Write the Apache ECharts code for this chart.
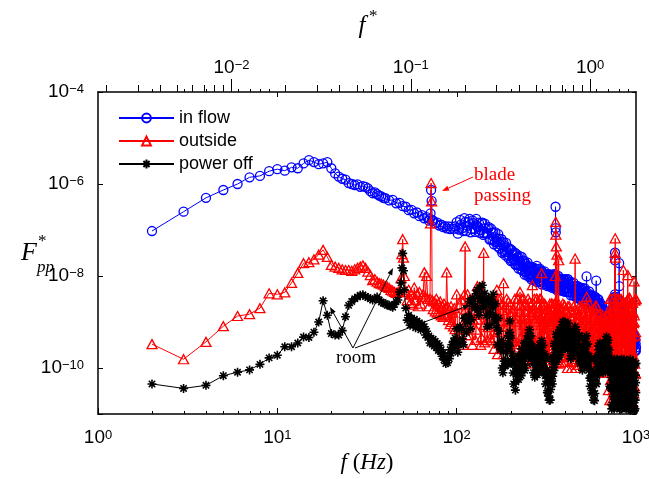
<!DOCTYPE html>
<html><head><meta charset="utf-8">
<script src="https://cdn.jsdelivr.net/npm/echarts@6/dist/echarts.min.js"></script>
<style>html,body{margin:0;padding:0;background:#fff}#c{width:649px;height:479px}</style>
</head><body><div id="c"></div>
<script>
// ---------------- data ----------------
// two interleaved high-frequency grids (Hz), shared by the three spectra
const hfFreq = [100,103,106,109,112,115,118,121,124,127,130,133,136,139,142,145,148,151,154,157,160,163,166,169,172,175,178,181,184,187,190,193,196,199,202,205,208,211,214,217,220,223,226,229,232,235,238,241,244,247,250,253,256,259,262,265,268,271,274,277,280,283,286,289,292,295,298,301,304,307,310,313,316,319,322,325,328,331,334,337,340,343,346,349,352,355,358,361,364,367,370,373,376,379,382,385,388,391,394,397,
400,405,410,415,420,425,430,435,440,445,450,455,460,465,470,475,480,485,490,495,500,505,510,515,520,525,530,535,540,545,550,555,560,565,570,575,580,585,590,595,600,605,610,615,620,625,630,635,640,645,650,655,660,665,670,675,680,685,690,695,700,705,710,715,720,725,730,735,740,745,750,755,760,765,770,775,780,785,790,795,800,805,810,815,820,825,830,835,840,845,850,855,860,865,870,875,880,885,890,895,900,905,910,915,920,925,930,935,940,945,950,955,960,965,970,975,980,985,990,995,1000];
const hfFreq2 = [101.5,104.5,107.5,110.5,113.5,116.5,119.5,122.5,125.5,128.5,131.5,134.5,137.5,140.5,143.5,146.5,149.5,152.5,155.5,158.5,161.5,164.5,167.5,170.5,173.5,176.5,179.5,182.5,185.5,188.5,191.5,194.5,197.5,200.5,203.5,206.5,209.5,212.5,215.5,218.5,221.5,224.5,227.5,230.5,233.5,236.5,239.5,242.5,245.5,248.5,251.5,254.5,257.5,260.5,263.5,266.5,269.5,272.5,275.5,278.5,281.5,284.5,287.5,290.5,293.5,296.5,299.5,302.5,305.5,308.5,311.5,314.5,317.5,320.5,323.5,326.5,329.5,332.5,335.5,338.5,341.5,344.5,347.5,350.5,353.5,356.5,359.5,362.5,365.5,368.5,371.5,374.5,377.5,380.5,383.5,386.5,389.5,392.5,395.5,398.5,
402.5,407.5,412.5,417.5,422.5,427.5,432.5,437.5,442.5,447.5,452.5,457.5,462.5,467.5,472.5,477.5,482.5,487.5,492.5,497.5,502.5,507.5,512.5,517.5,522.5,527.5,532.5,537.5,542.5,547.5,552.5,557.5,562.5,567.5,572.5,577.5,582.5,587.5,592.5,597.5,602.5,607.5,612.5,617.5,622.5,627.5,632.5,637.5,642.5,647.5,652.5,657.5,662.5,667.5,672.5,677.5,682.5,687.5,692.5,697.5,702.5,707.5,712.5,717.5,722.5,727.5,732.5,737.5,742.5,747.5,752.5,757.5,762.5,767.5,772.5,777.5,782.5,787.5,792.5,797.5,802.5,807.5,812.5,817.5,822.5,827.5,832.5,837.5,842.5,847.5,852.5,857.5,862.5,867.5,872.5,877.5,882.5,887.5,892.5,897.5,902.5,907.5,912.5,917.5,922.5,927.5,932.5,937.5,942.5,947.5,952.5,957.5,962.5,967.5,972.5,977.5,982.5,987.5,992.5,997.5];

// "in flow"
const inflowLowFreq = [2,3,4,5,6,7,8,9,10,11,12,13,14,15,16,17,18,19,20,21,22,23,24,25,26,27,28,29,30,31,32,33,34,35,36,37,38,39,40,42,44,46,48,50,52,54,56,58,60,62,64,66,68,70,71,71.5,72,72.5,73,74,76,78,80,82,84,86,88,90,92,94,96,98];
const inflowLowPsd = [9.5e-8,2.5e-7,5.0e-7,7.4e-7,1.0e-6,1.4e-6,1.5e-6,1.9e-6,2.1e-6,1.95e-6,2.3e-6,2.2e-6,2.8e-6,3.3e-6,3.0e-6,2.7e-6,2.8e-6,3.0e-6,2.2e-6,1.7e-6,1.45e-6,1.3e-6,1.25e-6,1.05e-6,1.0e-6,9.5e-7,9.8e-7,8.7e-7,9.0e-7,8.7e-7,8.0e-7,7.0e-7,6.3e-7,6.6e-7,6.0e-7,5.6e-7,5.4e-7,5.0e-7,4.9e-7,
4.4e-7,4.5e-7,3.8e-7,3.9e-7,3.3e-7,3.2e-7,2.7e-7,2.75e-7,2.3e-7,2.4e-7,2.0e-7,2.1e-7,1.8e-7,1.9e-7,1.6e-7,
1.75e-7,2.3e-7,7.4e-7,4.3e-7,1.6e-7,
1.6e-7,1.4e-7,1.45e-7,1.25e-7,1.3e-7,1.15e-7,1.22e-7,1.08e-7,1.2e-7,1.05e-7,1.18e-7,1.06e-7,1.2e-7];
const inflowHfPsd = [1.48e-7,1.02e-7,1.32e-7,9.5e-8,1.51e-7,1.23e-7,1.74e-7,1.05e-7,1.41e-7,9.1e-8,
1.23e-7,1.45e-7,1.0e-7,1.45e-7,8.5e-8,1.1e-7,8.5e-8,1.15e-7,6.3e-8,8.7e-8,
8.9e-8,5.6e-8,6.6e-8,4.4e-8,6.5e-8,4.8e-8,6.3e-8,3.5e-8,4.6e-8,2.8e-8,
3.6e-8,4.2e-8,2.75e-8,3.9e-8,2.2e-8,2.95e-8,2.35e-8,3.2e-8,1.78e-8,2.5e-8,
2.6e-8,1.7e-8,2.05e-8,1.38e-8,2.1e-8,1.58e-8,2.15e-8,1.23e-8,1.62e-8,1.02e-8,
1.38e-8,1.62e-8,1.1e-8,1.58e-8,9.5e-9,1.29e-8,1.05e-8,1.48e-8,8.5e-9,1.23e-8,
1.66e-8,8.9e-9,1.1e-8,7.6e-9,1.2e-8,9.3e-9,1.29e-8,7.6e-9,1.02e-8,6.8e-9,
9.1e-9,1.07e-8,7.6e-9,1.1e-8,6.8e-9,9.1e-9,7.4e-9,1.07e-8,6.2e-9,9.1e-9,
1.0e-8,6.6e-9,8.3e-9,5.75e-9,9.1e-9,7.1e-9,1.0e-8,5.9e-9,8.1e-9,5.25e-9,
7.1e-9,8.5e-9,5.9e-9,8.7e-9,5.25e-9,7.2e-9,5.9e-9,8.5e-9,4.9e-9,7.2e-9,
7.9e-9,5.25e-9,8.1e-9,4.5e-9,6.9e-9,5.4e-9,7.4e-9,4.4e-9,5.9e-9,3.8e-9,
5.1e-9,6.0e-9,4.2e-9,6.0e-9,3.6e-9,4.9e-9,4.0e-9,5.6e-9,3.2e-9,4.7e-9,
5.0e-9,3.3e-9,4.1e-9,2.8e-9,4.4e-9,3.4e-9,9.8e-9,2.75e-9,3.7e-9,2.4e-9,
3.2e-9,3.8e-9,2.6e-9,3.8e-9,2.3e-9,3.1e-9,2.5e-9,3.5e-9,2.0e-9,2.95e-9,
7.9e-9,2.0e-9,2.45e-9,1.66e-9,2.5e-9,1.9e-9,2.6e-9,1.48e-9,1.95e-9,1.23e-9,
1.62e-9,1.86e-9,1.26e-9,1.78e-9,1.05e-9,1.38e-9,1.1e-9,1.51e-9,8.5e-10,1.2e-9,
1.26e-9,8.5e-10,1.07e-9,7.6e-10,1.2e-9,1.1e-9,1.74e-9,1.2e-9,1.86e-9,1.41e-9,
2.2e-9,3.0e-9,2.45e-9,3.5e-9,2.1e-9,2.9e-9,2.3e-9,3.2e-9,1.86e-9,2.6e-9,
2.8e-9,1.8e-9,2.2e-9,1.51e-9,2.35e-9,1.78e-9,2.45e-9,1.41e-9,1.9e-9,1.2e-9,
1.62e-9,1.8e-9,1.23e-9,1.7e-9,1.0e-9,1.29e-9,1.02e-9,1.38e-9,7.8e-10,1.07e-9,
1.12e-9,7.1e-10,8.5e-10,5.6e-10,8.5e-10,6.3e-10,8.5e-10,4.8e-10,6.3e-10,3.9e-10,
5.1e-10,5.75e-10,3.9e-10,5.4e-10,3.2e-10,4.1e-10,3.2e-10,4.4e-10,2.45e-10,3.4e-10,
2.8e-10];
const inflowHf2Psd = [8.3e-8,1.66e-7,1.1e-7,1.82e-7,9.5e-8,1.48e-7,8.9e-8,1.62e-7,1.05e-7,1.74e-7,
1.15e-7,8.7e-8,1.41e-7,7.8e-8,1.38e-7,8.5e-8,1.07e-7,6.2e-8,1.07e-7,6.0e-8,
4.9e-8,8.9e-8,5.4e-8,8.1e-8,4.0e-8,5.6e-8,3.2e-8,5.4e-8,3.3e-8,5.25e-8,
3.3e-8,2.45e-8,3.8e-8,2.1e-8,3.6e-8,2.3e-8,2.95e-8,1.74e-8,3.0e-8,1.74e-8,
1.45e-8,2.7e-8,1.66e-8,2.6e-8,1.29e-8,1.86e-8,1.07e-8,1.86e-8,1.17e-8,1.95e-8,
1.29e-8,9.5e-9,1.55e-8,8.5e-9,1.55e-8,1.0e-8,1.32e-8,7.9e-9,1.45e-8,8.5e-9,
7.4e-9,1.41e-8,8.9e-9,1.45e-8,7.4e-9,1.1e-8,6.5e-9,1.17e-8,7.6e-9,1.26e-8,
8.5e-9,6.5e-9,1.05e-8,6.0e-9,1.1e-8,7.2e-9,9.5e-9,5.9e-9,1.07e-8,6.5e-9,
5.5e-9,1.07e-8,6.8e-9,1.1e-8,5.6e-9,8.5e-9,5.0e-9,9.1e-9,5.9e-9,1.0e-8,
6.6e-9,5.1e-9,8.3e-9,4.8e-9,8.7e-9,5.75e-9,7.6e-9,4.7e-9,8.5e-9,5.1e-9,
4.5e-9,8.5e-9,5.4e-9,8.5e-9,4.4e-9,6.5e-9,3.8e-9,6.8e-9,4.4e-9,7.2e-9,
4.8e-9,3.6e-9,5.9e-9,3.3e-9,6.0e-9,3.9e-9,5.1e-9,3.1e-9,5.6e-9,3.3e-9,
2.8e-9,5.4e-9,3.4e-9,5.4e-9,2.75e-9,4.1e-9,2.4e-9,4.3e-9,2.75e-9,4.6e-9,
3.0e-9,2.3e-9,3.7e-9,2.1e-9,3.8e-9,2.45e-9,3.2e-9,1.95e-9,3.5e-9,2.1e-9,
1.74e-9,3.2e-9,2.0e-9,3.1e-9,1.55e-9,2.2e-9,1.29e-9,2.2e-9,1.41e-9,2.3e-9,
1.48e-9,1.1e-9,1.74e-9,9.5e-10,1.7e-9,1.07e-9,1.38e-9,8.1e-10,1.45e-9,8.3e-10,
7.1e-10,1.38e-9,8.9e-10,1.45e-9,8.1e-10,1.38e-9,9.5e-10,2.0e-9,1.48e-9,2.9e-9,
2.2e-9,1.95e-9,3.5e-9,1.95e-9,3.5e-9,2.2e-9,2.95e-9,1.78e-9,3.2e-9,1.86e-9,
1.55e-9,2.95e-9,1.82e-9,2.9e-9,1.45e-9,2.15e-9,1.23e-9,2.2e-9,1.38e-9,2.3e-9,
1.48e-9,1.07e-9,1.7e-9,9.1e-10,1.62e-9,1.0e-9,1.29e-9,7.4e-10,1.32e-9,7.4e-10,
6.2e-10,1.12e-9,6.9e-10,1.05e-9,5.25e-10,7.4e-10,4.3e-10,7.2e-10,4.6e-10,7.2e-10,
4.7e-10,3.4e-10,5.4e-10,2.9e-10,5.1e-10,3.2e-10,4.1e-10,2.35e-10,4.2e-10,2.35e-10];
const inflowSpikeFreq = [355.5,356,356.5,357,763.5,764,764.5,805.5,806];
const inflowSpikePsd = [1.0e-8,3.2e-7,1.1e-7,8.9e-8,4.0e-9,3.2e-8,2.2e-8,1.9e-8,6.0e-9];

// "outside"
const outsideLowFreq = [2,3,4,5,6,7,8,9,10,11,12,13,14,15,16,17,18,19,20,21,22,23,24,25,26,27,28,29,30,31,32,33,34,35,36,37,38,39,40,41,42,43,44,45,46,47,48,49,49.5,50,50.5,51,52,53,54,55,56,57,58,59,60,61,62,63,64,65,66,67,68,69,70,71,71.5,72,72.5,73,74,75,76,77,78,79,80,81,82,83,84,85,86,87,88,89,90,91,92,93,94,95,96,97,98];
const outsideLowPsd = [3.3e-10,1.55e-10,3.7e-10,8.1e-10,1.35e-9,1.48e-9,2.0e-9,4.2e-9,4.0e-9,4.4e-9,7.1e-9,1.17e-8,1.9e-8,2.0e-8,2.3e-8,2.9e-8,3.7e-8,2.6e-8,1.74e-8,1.6e-8,1.5e-8,1.4e-8,1.35e-8,1.35e-8,1.3e-8,1.4e-8,1.5e-8,1.6e-8,1.7e-8,1.5e-8,1.25e-8,1.05e-8,8.1e-9,8.5e-9,7.5e-9,7.0e-9,6.8e-9,6.5e-9,6.0e-9,5.8e-9,5.5e-9,5.0e-9,4.8e-9,4.5e-9,4.3e-9,4.4e-9,4.5e-9,
9.0e-9,3.0e-8,6.3e-8,2.5e-8,1.0e-8,
4.5e-9,3.0e-9,5.0e-9,2.6e-9,4.0e-9,2.4e-9,5.6e-9,3.0e-9,4.0e-9,2.2e-9,4.5e-9,2.5e-9,3.5e-9,4.0e-9,1.2e-8,3.5e-9,1.0e-8,3.2e-9,2.2e-9,3.2e-9,
1.4e-7,1.05e-6,4.2e-7,
3.0e-9,1.9e-9,2.8e-9,1.7e-9,3.2e-9,1.6e-9,2.5e-9,1.5e-9,2.8e-9,1.4e-9,2.2e-9,1.3e-9,2.5e-9,1.4e-9,2.0e-9,1.2e-8,2.2e-9,1.1e-9,1.8e-9,9.0e-10,2.2e-9,1.0e-9,1.6e-9,8.0e-10,2.0e-9,7.0e-10];
const outsideHfPsd = [4.0e-9,6.8e-10,3.1e-9,3.2e-10,1.86e-9,4.0e-9,5.2e-10,2.4e-9,1.12e-9,4.1e-10,
4.0e-9,1.45e-9,3.2e-10,3.1e-9,8.7e-10,2.4e-9,4.1e-10,3.2e-9,4.6e-10,1.38e-9,
3.2e-9,4.6e-10,2.4e-9,2.0e-10,1.38e-9,3.2e-9,3.5e-10,1.82e-9,7.9e-10,2.6e-10,
3.2e-9,1.05e-9,2.0e-10,2.4e-9,4.6e-10,1.66e-9,1.74e-10,3.2e-9,3.3e-10,1.2e-9,
3.2e-9,3.3e-10,2.3e-9,1.26e-10,1.2e-9,3.2e-9,2.4e-10,1.66e-9,6.3e-10,1.74e-10,
3.2e-9,8.7e-10,1.26e-10,2.3e-9,4.6e-10,1.66e-9,1.74e-10,3.2e-9,3.3e-10,1.2e-9,
3.2e-9,3.3e-10,2.3e-9,1.26e-10,1.2e-9,3.2e-9,2.4e-10,1.38e-9,5.6e-10,1.7e-10,
2.5e-9,7.6e-10,1.26e-10,1.86e-9,4.2e-10,1.38e-9,1.7e-10,2.5e-9,3.1e-10,1.02e-9,
2.5e-9,3.1e-10,1.86e-9,1.26e-10,1.02e-9,2.5e-9,2.3e-10,1.38e-9,5.6e-10,1.7e-10,
2.5e-9,7.6e-10,1.26e-10,1.86e-9,4.2e-10,1.38e-9,1.7e-10,2.5e-9,3.1e-10,1.02e-9,
2.2e-9,2.5e-10,1.62e-9,1.0e-10,8.7e-10,2.2e-9,1.86e-10,1.2e-9,4.7e-10,1.35e-10,
2.2e-9,6.5e-10,1.0e-10,1.62e-9,3.5e-10,1.2e-9,1.35e-10,2.2e-9,2.5e-10,8.7e-10,
2.0e-9,3.0e-10,1.4e-9,1.1e-10,9.5e-10,2.4e-9,1.6e-10,1.1e-9,5.2e-10,1.2e-10,
2.4e-9,5.8e-10,1.15e-10,1.75e-9,3.0e-10,1.3e-9,1.2e-10,2.0e-9,2.8e-10,9.5e-10,
2.2e-9,1.86e-10,1.05e-9,7.9e-11,5.9e-10,1.41e-9,1.41e-10,7.9e-10,3.3e-10,1.05e-10,
1.41e-9,4.5e-10,7.9e-11,1.05e-9,2.5e-10,7.9e-10,1.05e-10,1.41e-9,1.86e-10,5.9e-10,
1.41e-9,9.1e-11,1.9e-9,2.0e-11,6.9e-10,3.2e-9,5.5e-11,1.15e-9,2.5e-10,3.3e-11,
3.2e-9,4.2e-10,2.0e-11,1.9e-9,1.5e-10,1.15e-9,3.3e-11,3.2e-9,9.1e-11,6.9e-10,
3.2e-9,9.1e-11,1.9e-9,2.0e-11,6.9e-10,3.2e-9,5.5e-11,1.15e-9,2.5e-10,3.3e-11,
2.8e-9,3.6e-10,2.4e-11,2.2e-9,1.2e-10,1.3e-9,2.8e-11,2.7e-9,1.1e-10,8.0e-10,
3.2e-9,9.1e-11,1.9e-9,2.0e-11,6.9e-10,3.2e-9,5.5e-11,1.15e-9,2.5e-10,3.3e-11,
2.6e-9,4.8e-10,1.7e-11,1.6e-9,1.8e-10,1.0e-9,4.0e-11,2.9e-9,7.5e-11,6.0e-10,
3.2e-9];
const outsideHf2Psd = [4.1e-10,2.4e-9,8.7e-10,4.0e-9,5.2e-10,1.45e-9,3.1e-9,3.2e-10,1.86e-9,6.8e-10,
1.12e-9,3.5e-9,4.6e-10,2.1e-9,3.6e-10,2.7e-9,7.7e-10,1.2e-9,4.0e-10,3.2e-9,
2.6e-10,1.82e-9,6.0e-10,3.2e-9,3.5e-10,1.05e-9,2.4e-9,2.0e-10,1.38e-9,4.6e-10,
7.9e-10,2.75e-9,3.0e-10,1.41e-9,1.48e-10,1.95e-9,3.9e-10,1.02e-9,2.8e-10,3.2e-9,
1.74e-10,1.66e-9,4.6e-10,3.2e-9,2.4e-10,8.7e-10,2.3e-9,1.26e-10,1.2e-9,3.3e-10,
6.3e-10,2.7e-9,2.0e-10,1.41e-9,1.48e-10,1.95e-9,3.9e-10,1.02e-9,2.8e-10,3.2e-9,
1.74e-10,1.66e-9,4.6e-10,3.2e-9,2.4e-10,8.7e-10,2.3e-9,1.26e-10,1.02e-9,3.1e-10,
5.6e-10,2.2e-9,2.0e-10,1.19e-9,1.46e-10,1.6e-9,3.6e-10,8.8e-10,2.7e-10,2.5e-9,
1.7e-10,1.38e-9,4.2e-10,2.5e-9,2.3e-10,7.6e-10,1.86e-9,1.26e-10,1.02e-9,3.1e-10,
6.0e-10,2.0e-9,2.2e-10,1.3e-9,1.35e-10,1.7e-9,3.3e-10,9.5e-10,2.5e-10,2.3e-9,
1.36e-10,1.2e-9,3.5e-10,2.2e-9,1.86e-10,6.5e-10,1.64e-9,1.0e-10,8.8e-10,2.5e-10,
4.7e-10,1.9e-9,1.58e-10,1.02e-9,1.17e-10,1.41e-9,2.95e-10,7.6e-10,2.2e-10,2.2e-9,
1.5e-10,1.1e-9,3.8e-10,2.0e-9,1.7e-10,7.0e-10,1.8e-9,1.1e-10,8.0e-10,2.7e-10,
5.0e-10,1.7e-9,1.45e-10,1.1e-9,1.25e-10,1.3e-9,3.2e-10,7.0e-10,2.0e-10,2.3e-9,
1.06e-10,7.9e-10,2.5e-10,1.41e-9,1.41e-10,4.5e-10,1.06e-9,7.9e-11,6.0e-10,1.88e-10,
3.35e-10,1.23e-9,1.23e-10,6.9e-10,9.1e-11,9.1e-10,2.2e-10,5.1e-10,1.62e-10,1.41e-9,
3.3e-11,1.15e-9,1.5e-10,3.2e-9,5.5e-11,4.2e-10,1.9e-9,2.0e-11,6.9e-10,9.1e-11,
2.5e-10,2.45e-9,4.3e-11,8.9e-10,2.6e-11,1.48e-9,1.17e-10,5.4e-10,7.1e-11,3.2e-9,
3.0e-11,1.3e-9,1.3e-10,2.8e-9,6.0e-11,3.8e-10,2.1e-9,1.8e-11,7.5e-10,8.0e-11,
2.8e-10,2.2e-9,4.8e-11,8.0e-10,2.4e-11,1.6e-9,1.05e-10,6.0e-10,6.5e-11,3.0e-9,
3.6e-11,1.05e-9,1.7e-10,3.4e-9,5.0e-11,4.6e-10,1.7e-9,2.2e-11,6.3e-10,1.0e-10,
2.3e-10,2.6e-9,4.0e-11,9.5e-10,2.8e-11,1.4e-9,1.25e-10,5.0e-10,7.6e-11,3.1e-9];
const outsideSpikeFreq = [111.5,130.5,141.5,167.5,182.5,225.5,264.5,297.5,355.5,356.5,357.5,359.5,362.5,370.5,457.5,530.5,764.5,765.5,766.5,850.5,900.5,975.5];
const outsideSpikePsd = [4.4e-8,6.0e-9,3.2e-8,5.0e-9,7.0e-9,4.5e-9,6.3e-9,1.15e-8,1.0e-8,1.5e-7,7.9e-8,4.4e-8,2.9e-8,2.2e-8,2.4e-8,3.5e-9,3.2e-8,6.6e-8,2.5e-8,1.35e-8,1.05e-8,7.6e-9];

// "power off"
const powerOffLowFreq = [2,3,4,5,6,7,8,9,10,11,12,13,14,15,16,17,18,19,20,21,22,23,24,25,26,27,28,29,30,31,32,33,34,35,36,37,38,39,40,41,42,43,44,45,46,47,48,49,49.5,50,50.5,51,52,53,54,55,56,57,58,59,60,61,62,63,64,65,66,67,68,69,70,71,72,73,74,75,76,77,78,79,80,81,82,83,84,85,86,87,88,89,90,91,92,93,94,95,96,97,98,99];
const powerOffLowPsd = [4.5e-11,3.6e-11,4.2e-11,6.8e-11,8.1e-11,9.1e-11,1.2e-10,1.66e-10,1.9e-10,2.9e-10,2.9e-10,3.5e-10,4.7e-10,4.6e-10,6.0e-10,1.0e-9,2.9e-9,1.4e-9,5.6e-10,5.2e-10,5.2e-10,6.5e-10,1.3e-9,2.3e-9,2.8e-9,3.2e-9,3.5e-9,3.8e-9,3.9e-9,3.6e-9,3.4e-9,3.2e-9,3.0e-9,3.2e-9,3.5e-9,3.0e-9,2.7e-9,2.6e-9,2.5e-9,2.3e-9,2.3e-9,2.2e-9,2.1e-9,2.4e-9,2.8e-9,3.0e-9,4.5e-9,
7.1e-9,1.5e-8,3.1e-8,1.3e-8,5.0e-9,
2.0e-9,1.1e-9,1.4e-9,8.5e-10,1.2e-9,9.0e-10,1.15e-9,7.5e-10,1.05e-9,8.0e-10,9.5e-10,6.8e-10,8.9e-10,7.2e-10,7.9e-10,5.2e-10,6.3e-10,4.6e-10,5.0e-10,3.5e-10,4.4e-10,3.3e-10,4.2e-10,3.0e-10,3.8e-10,2.8e-10,3.4e-10,2.4e-10,3.1e-10,2.3e-10,2.5e-10,1.8e-10,2.1e-10,1.5e-10,1.7e-10,1.25e-10,1.5e-10,1.3e-10,1.9e-10,1.6e-10,2.5e-10,2.1e-10,3.2e-10,2.6e-10,3.8e-10,3.0e-10,4.5e-10,3.6e-10];
const powerOffHfPsd = [7.1e-10,3.2e-10,7.1e-10,3.2e-10,1.26e-9,1.0e-9,2.8e-9,1.12e-9,2.8e-9,2.0e-9,
5.0e-9,1.41e-9,3.2e-9,6.3e-9,2.5e-9,2.8e-9,7.9e-10,3.2e-9,1.58e-9,2.8e-9,
4.0e-9,1.0e-9,1.26e-9,3.2e-10,6.3e-10,2.5e-10,4.0e-10,7.9e-11,1.41e-10,1.12e-10,
3.2e-10,1.26e-10,3.2e-10,4.5e-10,1.26e-10,1.58e-10,4.5e-11,1.26e-10,5.0e-11,1.0e-10,
1.78e-10,7.1e-11,1.58e-10,6.8e-11,2.0e-10,1.41e-10,3.5e-10,1.12e-10,2.7e-10,2.0e-10,
5.0e-10,1.7e-10,3.5e-10,5.0e-10,1.78e-10,2.5e-10,7.9e-11,2.4e-10,7.8e-11,1.2e-10,
2.2e-10,8.9e-11,2.0e-10,8.5e-11,2.5e-10,1.78e-10,3.9e-10,1.05e-10,1.86e-10,1.0e-10,
1.78e-10,4.5e-11,7.1e-11,8.9e-11,3.2e-11,5.0e-11,2.0e-11,7.6e-11,3.4e-11,7.1e-11,
1.41e-10,6.6e-11,1.74e-10,8.9e-11,3.0e-10,2.2e-10,5.4e-10,1.58e-10,3.3e-10,2.2e-10,
5.0e-10,1.7e-10,3.7e-10,6.9e-10,3.3e-10,6.3e-10,2.7e-10,1.02e-9,3.8e-10,6.2e-10,
1.0e-9,3.5e-10,7.1e-10,2.5e-10,6.3e-10,3.4e-10,6.3e-10,1.86e-10,4.0e-10,2.7e-10,
6.3e-10,2.0e-10,4.0e-10,6.8e-10,2.8e-10,4.5e-10,1.58e-10,4.8e-10,1.41e-10,2.0e-10,
2.8e-10,1.12e-10,2.5e-10,1.12e-10,3.5e-10,2.2e-10,5.0e-10,1.12e-10,1.78e-10,8.9e-11,
1.58e-10,4.0e-11,6.3e-11,8.9e-11,3.2e-11,5.2e-11,2.0e-11,7.4e-11,2.8e-11,6.3e-11,
1.41e-10,6.8e-11,1.78e-10,7.9e-11,2.5e-10,1.58e-10,3.5e-10,9.5e-11,1.78e-10,1.07e-10,
2.2e-10,7.9e-11,1.78e-10,3.4e-10,1.58e-10,3.0e-10,1.26e-10,4.8e-10,1.78e-10,2.7e-10,
4.0e-10,1.0e-10,1.41e-10,4.0e-11,7.9e-11,3.6e-11,1.55e-10,1.58e-11,5.5e-11,2.4e-11,
1.02e-10,1.29e-11,4.5e-11,1.26e-10,3.0e-11,8.3e-11,1.58e-11,1.55e-10,2.4e-11,5.5e-11,
1.26e-10,1.95e-11,6.8e-11,1.29e-11,8.3e-11,3.6e-11,1.55e-10,1.58e-11,5.5e-11,2.4e-11,
8.0e-11,1.5e-11,5.5e-11,1.1e-10,2.6e-11,9.5e-11,1.3e-11,1.3e-10,2.9e-11,6.5e-11,
1.26e-10,1.95e-11,6.8e-11,1.29e-11,8.3e-11,3.6e-11,1.55e-10,1.58e-11,5.5e-11,2.4e-11,
1.15e-10,1.4e-11,3.8e-11,1.4e-10,2.2e-11,7.0e-11,1.2e-11,1.2e-10,2.0e-11,4.8e-11,
1.26e-10];
const powerOffHf2Psd = [2.2e-10,7.9e-10,4.3e-10,1.2e-9,5.9e-10,1.35e-9,7.1e-10,3.3e-9,2.2e-9,4.1e-9,
1.9e-9,5.6e-9,3.0e-9,2.0e-9,4.2e-9,1.38e-9,2.6e-9,8.3e-10,3.1e-9,2.1e-9,
1.26e-9,2.5e-9,7.6e-10,1.2e-9,2.95e-10,3.4e-10,1.0e-10,2.35e-10,1.1e-10,2.3e-10,
1.2e-10,5.0e-10,3.0e-10,1.45e-10,2.1e-10,7.8e-11,1.45e-10,3.3e-11,9.8e-11,7.4e-11,
5.6e-11,1.78e-10,9.5e-11,2.6e-10,9.3e-11,1.9e-10,8.9e-11,3.3e-10,2.1e-10,4.1e-10,
1.9e-10,6.8e-10,3.3e-10,1.62e-10,2.95e-10,1.23e-10,2.6e-10,6.3e-11,1.51e-10,8.9e-11,
7.1e-11,2.2e-10,1.2e-10,3.2e-10,1.17e-10,2.4e-10,9.8e-11,3.1e-10,1.45e-10,2.0e-10,
6.8e-11,1.78e-10,6.8e-11,2.9e-11,5.2e-11,2.45e-11,6.5e-11,2.0e-11,6.6e-11,5.2e-11,
4.5e-11,1.66e-10,1.05e-10,3.4e-10,1.41e-10,3.0e-10,1.35e-10,4.7e-10,2.6e-10,4.5e-10,
1.9e-10,6.8e-10,3.5e-10,2.2e-10,5.5e-10,3.1e-10,8.7e-10,2.7e-10,7.4e-10,4.6e-10,
3.2e-10,8.9e-10,4.3e-10,9.5e-10,2.95e-10,4.6e-10,1.58e-10,5.5e-10,3.1e-10,5.5e-10,
2.4e-10,7.9e-10,3.8e-10,2.2e-10,4.7e-10,2.2e-10,5.1e-10,1.26e-10,2.75e-10,1.48e-10,
8.9e-11,2.8e-10,1.51e-10,4.3e-10,1.66e-10,3.0e-10,1.26e-10,3.3e-10,1.38e-10,1.82e-10,
6.0e-11,1.58e-10,6.0e-11,2.9e-11,5.2e-11,2.6e-11,6.5e-11,1.95e-11,5.5e-11,4.7e-11,
4.5e-11,1.7e-10,1.07e-10,3.0e-10,1.17e-10,2.15e-10,8.9e-11,2.8e-10,1.38e-10,2.2e-10,
8.5e-11,3.2e-10,1.7e-10,1.1e-10,2.6e-10,1.48e-10,4.1e-10,1.26e-10,3.5e-10,2.0e-10,
1.26e-10,2.5e-10,8.5e-11,1.51e-10,3.7e-11,6.2e-11,1.29e-11,1.12e-10,3.5e-11,8.7e-11,
1.78e-11,1.55e-10,4.1e-11,1.66e-11,7.4e-11,2.3e-11,1.32e-10,1.41e-11,7.9e-11,3.2e-11,
1.58e-11,1.02e-10,2.7e-11,1.41e-10,2.1e-11,6.2e-11,1.29e-11,1.12e-10,3.5e-11,8.7e-11,
1.78e-11,1.55e-10,4.1e-11,1.66e-11,7.4e-11,2.3e-11,1.32e-10,1.41e-11,7.9e-11,3.2e-11,
1.7e-11,9.0e-11,3.0e-11,1.2e-10,2.4e-11,5.5e-11,1.2e-11,1.0e-10,3.9e-11,7.8e-11,
1.6e-11,1.3e-10,4.6e-11,1.5e-11,6.6e-11,2.0e-11,1.15e-10,1.3e-11,7.0e-11,2.9e-11];
const powerOffSpikeFreq = [197.5,198,198.5];
const powerOffSpikePsd = [6.0e-10,1.05e-9,5.0e-10];

// axis tick / label data
const fRef = 555;                 // f* = f / fRef
const xLabelExps = [0, 1, 2, 3];
const yLabelExps = [-10, -8, -6, -4];
const topLabelExps = [-2, -1, 0];
const fMinorTicks = [2,3,4,5,6,7,8,9,20,30,40,50,60,70,80,90,200,300,400,500,600,700,800,900];
const fMajorInnerTicks = [10, 100];
const fStarMajorTicks = [0.01, 0.1, 1];
const fStarMinorTicks = [0.002,0.003,0.004,0.005,0.006,0.007,0.008,0.009,0.02,0.03,0.04,0.05,0.06,0.07,0.08,0.09,0.2,0.3,0.4,0.5,0.6,0.7,0.8,0.9];
const yMin = 1e-11, yMax = 1e-4;

// ---------------- build ----------------
function buildData(lowF, lowP, hfP, hf2P, spF, spP) {
  const pts = [];
  lowF.forEach((f, i) => pts.push([f, lowP[i]]));
  hfFreq.forEach((f, i) => { if (hfP[i] != null) pts.push([f, hfP[i]]); });
  hfFreq2.forEach((f, i) => { if (hf2P[i] != null) pts.push([f, hf2P[i]]); });
  spF.forEach((f, i) => pts.push([f, spP[i]]));
  pts.sort((a, b) => a[0] - b[0]);
  return pts;
}

const chart = echarts.init(document.getElementById('c'), null, {renderer: 'canvas'});
const SANS = '"Liberation Sans", Arial, Helvetica, sans-serif';
const SERIF = '"Liberation Serif", "Times New Roman", serif';
const rich = {
  b: {fontFamily: SANS, fontSize: 19, lineHeight: 18, padding: [6, 0, 6, 0], color: '#000', verticalAlign: 'middle'},
  s: {fontFamily: SANS, fontSize: 13, lineHeight: 13, color: '#000', verticalAlign: 'top'}
};
function powFormatter(list) {
  return function (v) {
    const e = Math.log10(v), r = Math.round(e);
    if (Math.abs(e - r) > 1e-6 || list.indexOf(r) < 0) return '';
    return '{b|10}{s|' + (r < 0 ? '\u2212' + (-r) : String(r)) + '}';
  };
}
const axisLine = {show: true, onZero: false, lineStyle: {color: '#000', width: 1.5}};
const STAR = 'path://M5,0L5,10M0,5L10,5M1.5,1.5L8.5,8.5M1.5,8.5L8.5,1.5';

function tickSeries(xIdx, values, parts) {
  return {
    type: 'custom', xAxisIndex: xIdx, yAxisIndex: 0, silent: true, z: 20, clip: false,
    data: values.map(v => [v, yMin]),
    renderItem: function (params, api) {
      const v = api.value(0);
      const b = api.coord([v, yMin]), t = api.coord([v, yMax]);
      return {type: 'group', children: parts.map(p => {
        const base = p.edge === 'top' ? t : b;
        const x = Math.round(base[0]) + 0.5;
        return {type: 'line', shape: {x1: x, y1: base[1], x2: x, y2: base[1] + p.dy},
                style: {stroke: '#000', lineWidth: 1}};
      })};
    }
  };
}

function arrow(x1, y1, x2, y2, color) {
  const a = Math.atan2(y2 - y1, x2 - x1), L = 7, W = 2.6;
  const bx = x2 - L * Math.cos(a), by = y2 - L * Math.sin(a);
  const px = -Math.sin(a) * W, py = Math.cos(a) * W;
  return [
    {type: 'line', shape: {x1: x1, y1: y1, x2: bx, y2: by}, style: {stroke: color, lineWidth: 1}, z: 100},
    {type: 'polygon', shape: {points: [[x2, y2], [bx + px, by + py], [bx - px, by - py]]}, style: {fill: color}, z: 100}
  ];
}

const graphics = [].concat(
  arrow(473, 177, 442, 191, '#ff0000'),
  arrow(353, 348, 330, 307, '#000'),
  arrow(353, 348, 393, 268, '#000'),
  arrow(355, 348, 470, 305, '#000'),
  [
    {type: 'text', z: 100, style: {text: 'blade', x: 474, y: 175, font: '19px ' + SERIF, fill: '#ff0000', verticalAlign: 'middle'}},
    {type: 'text', z: 100, style: {text: 'passing', x: 474, y: 196, font: '19px ' + SERIF, fill: '#ff0000', verticalAlign: 'middle'}},
    {type: 'text', z: 100, style: {text: 'room', x: 336, y: 358, font: '19px ' + SERIF, fill: '#000', verticalAlign: 'middle'}},
    {type: 'text', style: {text: 'f', x: 362, y: 26, font: 'italic 25px ' + SERIF, fill: '#000', align: 'center', verticalAlign: 'middle'}},
    {type: 'text', style: {text: '*', x: 369, y: 17, font: '17px ' + SERIF, fill: '#000', align: 'left', verticalAlign: 'middle'}},
    {type: 'text', style: {text: '{i|f} ({i|Hz})', x: 367, y: 463, font: '23px ' + SERIF, fill: '#000', align: 'center', verticalAlign: 'middle',
      rich: {i: {fontFamily: SERIF, fontStyle: 'italic', fontSize: 23}}}},
    {type: 'text', style: {text: 'F', x: 21, y: 253, font: 'italic 26px ' + SERIF, fill: '#000', verticalAlign: 'middle'}},
    {type: 'text', style: {text: '*', x: 38, y: 242, font: '17px ' + SERIF, fill: '#000', verticalAlign: 'middle'}},
    {type: 'text', style: {text: 'pp', x: 37, y: 268, font: 'italic 17px ' + SERIF, fill: '#000', verticalAlign: 'middle'}}
  ]
);

const option = {
  animation: false,
  backgroundColor: '#fff',
  grid: {left: 98, top: 92, right: 13, bottom: 65, containLabel: false, outerBoundsMode: 'none'},
  legend: {
    data: ['in flow', 'outside', 'power off'], orient: 'vertical', left: 118, top: 109, padding: 0,
    itemWidth: 55, itemHeight: 11, itemGap: 5,
    textStyle: {fontFamily: SANS, fontSize: 18, lineHeight: 18, color: '#000'}
  },
  xAxis: [
    {type: 'log', logBase: 10, min: 1, max: 1000, position: 'bottom', axisLine: axisLine,
     axisTick: {show: true, inside: true, length: 6, lineStyle: {color: '#000', width: 1}},
     minorTick: {show: false}, splitLine: {show: false},
     axisLabel: {margin: 15, formatter: powFormatter(xLabelExps), rich: rich, showMinLabel: true, showMaxLabel: true}},
    {type: 'log', logBase: 10, min: 1 / fRef, max: 1000 / fRef, position: 'top', axisLine: axisLine,
     axisTick: {show: false}, minorTick: {show: false}, splitLine: {show: false},
     axisLabel: {margin: 15, formatter: powFormatter(topLabelExps), rich: rich}}
  ],
  yAxis: [
    {type: 'log', logBase: 100, min: yMin, max: yMax, position: 'left', axisLine: axisLine,
     axisTick: {show: true, inside: true, length: 5, lineStyle: {color: '#000', width: 1}},
     minorTick: {show: false}, splitLine: {show: false},
     axisLabel: {margin: 14, formatter: powFormatter(yLabelExps), rich: rich, showMinLabel: true, showMaxLabel: true}},
    {type: 'log', logBase: 100, min: yMin, max: yMax, position: 'right', axisLine: axisLine,
     axisTick: {show: true, inside: true, length: 4, lineStyle: {color: '#000', width: 1}},
     minorTick: {show: false}, splitLine: {show: false}, axisLabel: {show: false}}
  ],
  series: [
    {name: 'in flow', type: 'line', data: buildData(inflowLowFreq, inflowLowPsd, inflowHfPsd, inflowHf2Psd, inflowSpikeFreq, inflowSpikePsd),
     symbol: 'circle', symbolSize: 9,
     lineStyle: {color: '#0000ff', width: 1}, itemStyle: {color: 'rgba(0,0,0,0)', borderColor: '#0000ff', borderWidth: 1.3},
     emphasis: {disabled: true}, z: 3},
    {name: 'outside', type: 'line', data: buildData(outsideLowFreq, outsideLowPsd, outsideHfPsd, outsideHf2Psd, outsideSpikeFreq, outsideSpikePsd),
     symbol: 'triangle', symbolSize: [10, 9],
     lineStyle: {color: '#ff0000', width: 1}, itemStyle: {color: 'rgba(0,0,0,0)', borderColor: '#ff0000', borderWidth: 1.3},
     emphasis: {disabled: true}, z: 4},
    {name: 'power off', type: 'line', data: buildData(powerOffLowFreq, powerOffLowPsd, powerOffHfPsd, powerOffHf2Psd, powerOffSpikeFreq, powerOffSpikePsd),
     symbol: STAR, symbolSize: 9,
     lineStyle: {color: '#000', width: 1}, itemStyle: {color: '#000', borderColor: '#000', borderWidth: 1.6},
     emphasis: {disabled: true}, z: 5},
    tickSeries(0, fMinorTicks, [{edge: 'bottom', dy: -3}, {edge: 'top', dy: -3}]),
    tickSeries(0, fMajorInnerTicks, [{edge: 'top', dy: 5}]),
    tickSeries(1, fStarMajorTicks, [{edge: 'top', dy: -13}]),
    tickSeries(1, fStarMinorTicks, [{edge: 'top', dy: -7}])
  ],
  graphic: graphics
};
chart.setOption(option);
</script></body></html>
